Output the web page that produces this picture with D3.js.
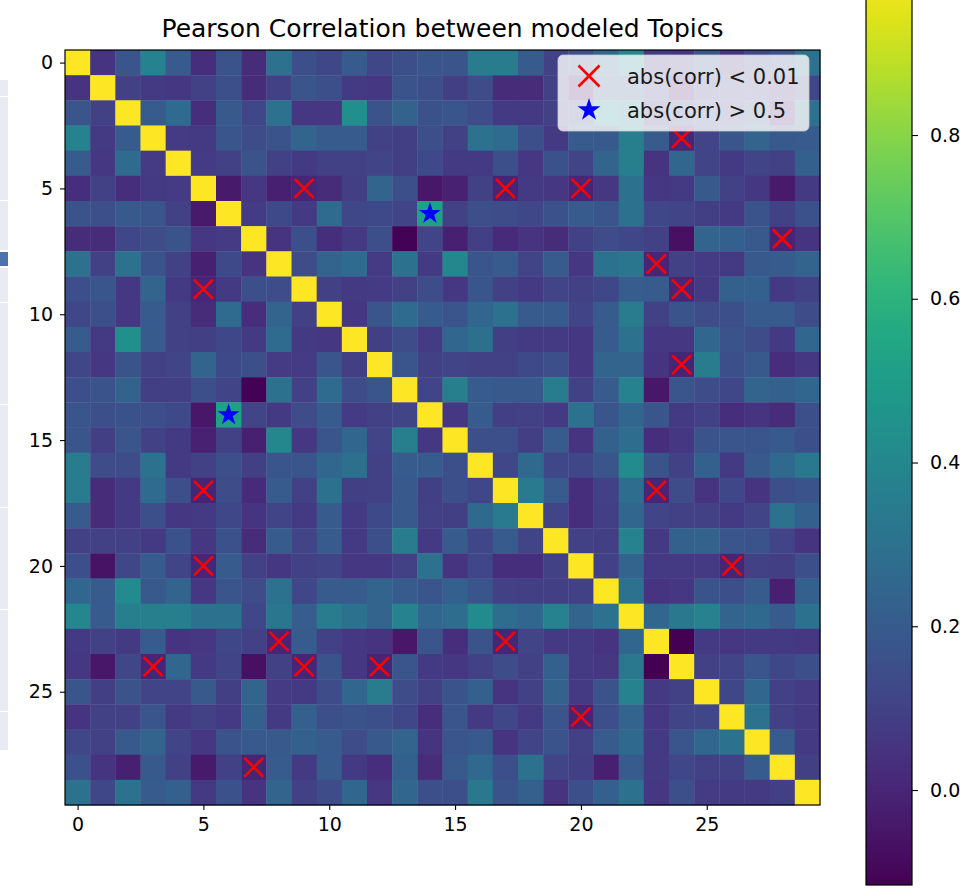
<!DOCTYPE html>
<html>
<head>
<meta charset="utf-8">
<script src="https://cdn.jsdelivr.net/npm/d3@7"></script>
<style>
  html, body { margin: 0; padding: 0; background: #fff; }
  svg { display: block; font-family: "DejaVu Sans", sans-serif; }
</style>
</head>
<body>
<svg id="chart" width="960" height="888"></svg>
<script>
// ---------------- DATA ----------------
const topics = d3.range(30);
const axisTicks = [0, 5, 10, 15, 20, 25];
const colorbarTicks = [0.0, 0.2, 0.4, 0.6, 0.8];
const titleText = "Pearson Correlation between modeled Topics";
const legendLabels = ["abs(corr) < 0.01", "abs(corr) > 0.5"];
const lowThreshold = 0.01, highThreshold = 0.5;

// Upper triangle of the (symmetric) correlation matrix: row i holds columns i+1 .. 29
const upper = [
  [0.05,0.18,0.38,0.20,0.03,0.17,0.02,0.30,0.15,0.12,0.20,0.12,0.15,0.18,0.18,0.35,0.35,0.20,0.10,0.15,0.25,0.40,0.07,0.06,0.18,0.05,0.12,0.16,0.30],
  [0.10,0.07,0.06,0.10,0.15,0.02,0.10,0.18,0.15,0.07,0.06,0.17,0.15,0.09,0.14,0.02,0.02,0.10,-0.06,0.20,0.20,0.10,-0.05,0.09,0.10,0.10,0.05,0.12],
  [0.20,0.27,0.03,0.19,0.12,0.30,0.06,0.06,0.44,0.17,0.23,0.16,0.18,0.14,0.07,0.07,0.10,0.12,0.42,0.36,0.07,0.12,0.17,0.10,0.19,-0.02,0.30],
  [0.08,0.07,0.18,0.14,0.17,0.24,0.20,0.20,0.10,0.09,0.15,0.10,0.30,0.27,0.15,0.07,0.20,0.19,0.36,0.20,0.005,0.11,0.18,0.24,0.19,0.20],
  [0.08,0.10,0.17,0.10,0.07,0.10,0.10,0.11,0.09,0.13,0.07,0.07,0.15,0.06,0.16,0.11,0.24,0.36,0.05,0.25,0.11,0.07,0.11,0.10,0.22],
  [-0.04,0.06,-0.02,0.005,0.02,0.09,0.24,0.15,-0.05,-0.015,0.10,-0.005,0.07,0.06,0.005,0.06,0.30,0.06,0.07,0.19,0.10,0.06,-0.04,0.07],
  [0.08,0.13,0.07,0.27,0.12,0.13,0.11,0.52,0.10,0.15,0.14,0.12,0.16,0.20,0.18,0.30,0.12,0.11,0.09,0.07,0.17,0.10,0.16],
  [0.05,0.15,0.03,0.07,0.15,-0.11,0.11,-0.02,0.09,0.015,0.05,0.02,0.10,0.14,0.12,0.10,-0.07,0.24,0.22,0.19,-0.005,0.05],
  [0.14,0.24,0.27,0.08,0.30,0.07,0.40,0.18,0.20,0.11,0.20,0.06,0.30,0.32,0.005,0.10,0.08,0.07,0.19,0.20,0.24],
  [0.10,0.07,0.08,0.10,0.14,0.06,0.18,0.10,0.07,0.11,0.10,0.12,0.21,0.20,0.005,0.07,0.22,0.22,0.07,0.10],
  [0.06,0.18,0.27,0.20,0.18,0.25,0.30,0.20,0.20,0.11,0.20,0.35,0.10,0.17,0.14,0.15,0.20,0.20,0.14],
  [0.09,0.14,0.08,0.25,0.29,0.09,0.07,0.07,0.06,0.20,0.30,0.06,0.06,0.25,0.17,0.14,0.07,0.25],
  [0.18,0.10,0.11,0.10,0.10,0.13,0.15,0.06,0.24,0.24,0.05,-0.005,0.35,0.15,0.19,0.03,0.06],
  [0.11,0.36,0.20,0.19,0.19,0.35,0.10,0.20,0.38,-0.05,0.18,0.14,0.12,0.24,0.22,0.25],
  [0.06,0.20,0.09,0.10,0.07,0.30,0.18,0.25,0.18,0.07,0.10,0.03,0.05,0.02,0.15],
  [0.15,0.15,0.09,0.20,0.05,0.22,0.28,0.03,0.06,0.17,0.18,0.18,0.19,0.15],
  [0.12,0.26,0.12,0.12,0.18,0.42,0.17,0.10,0.22,0.07,0.19,0.26,0.33],
  [0.34,0.20,0.03,0.10,0.28,0.005,0.14,0.05,0.12,0.05,0.15,0.17],
  [0.11,0.03,0.09,0.25,0.11,0.10,0.10,0.07,0.11,0.30,0.22],
  [0.10,0.09,0.38,0.07,0.22,0.23,0.18,0.17,0.11,0.05],
  [0.10,0.24,0.07,0.07,0.07,-0.005,0.10,0.09,0.15],
  [0.30,0.05,0.06,0.17,0.15,0.20,-0.02,0.22],
  [0.25,0.33,0.38,0.24,0.26,0.20,0.30],
  [-0.116,0.07,0.06,0.07,0.07,0.06],
  [0.10,0.11,0.18,0.12,0.15],
  [0.12,0.25,0.10,0.08],
  [0.30,0.10,0.07],
  [0.20,0.07],
  [0.09]
];

// ---------------- BUILD ----------------
const n = topics.length;
function corr(i, j) {
  if (i === j) return 1;
  return i < j ? upper[i][j - i - 1] : upper[j][i - j - 1];
}
const cells = [];
topics.forEach(i => topics.forEach(j => cells.push({ row: i, col: j, v: corr(i, j) })));

const svg = d3.select("#chart");
svg.append("rect").attr("width", 960).attr("height", 888).attr("fill", "#fff");

// left-edge remnants of neighbouring UI in the screenshot
const leftBands = [[80, 96], [97, 200], [201, 250], [268, 302], [303, 404], [405, 507], [508, 609], [610, 711], [712, 750]];
svg.append("g").selectAll("rect").data(leftBands).join("rect")
  .attr("x", 0).attr("y", d => d[0]).attr("width", 8).attr("height", d => d[1] - d[0])
  .attr("fill", "#eaeaf2");
svg.append("rect").attr("x", 0).attr("y", 252).attr("width", 8).attr("height", 14).attr("fill", "#4c72b0");

const pLeft = 65, pRight = 820, pTop = 50, pBottom = 805;
const x = d3.scaleLinear().domain([-0.5, n - 0.5]).range([pLeft, pRight]);
const y = d3.scaleLinear().domain([-0.5, n - 0.5]).range([pTop, pBottom]);
const cw = x(1) - x(0), ch = y(1) - y(0);

const vmin = d3.min(cells, d => d.v), vmax = d3.max(cells, d => d.v);
const color = d3.scaleSequential(d3.interpolateViridis).domain([vmin, vmax]);

// heatmap cells
svg.append("g").selectAll("rect").data(cells).join("rect")
  .attr("x", d => x(d.col - 0.5)).attr("y", d => y(d.row - 0.5))
  .attr("width", cw + 0.4).attr("height", ch + 0.4)
  .attr("fill", d => color(d.v));

// markers
function starPath(R) {
  const r = R * 0.382;
  let p = "";
  for (let k = 0; k < 10; k++) {
    const rad = k % 2 === 0 ? R : r;
    const a = -Math.PI / 2 + k * Math.PI / 5;
    p += (k === 0 ? "M" : "L") + (rad * Math.cos(a)).toFixed(2) + "," + (rad * Math.sin(a)).toFixed(2);
  }
  return p + "Z";
}
const xPath = "M-9.5,-9.5L9.5,9.5M-9.5,9.5L9.5,-9.5";
const lows = cells.filter(d => d.row !== d.col && Math.abs(d.v) < lowThreshold);
const highs = cells.filter(d => d.row !== d.col && Math.abs(d.v) > highThreshold);

svg.append("g").selectAll("path").data(lows).join("path")
  .attr("transform", d => `translate(${x(d.col)},${y(d.row)})`)
  .attr("d", xPath).attr("stroke", "#ff0000").attr("stroke-width", 2.6).attr("fill", "none");
svg.append("g").selectAll("path").data(highs).join("path")
  .attr("transform", d => `translate(${x(d.col)},${y(d.row)})`)
  .attr("d", starPath(11.5)).attr("fill", "#0000ff");

// frame
svg.append("rect").attr("x", pLeft).attr("y", pTop).attr("width", pRight - pLeft).attr("height", pBottom - pTop)
  .attr("fill", "none").attr("stroke", "#000").attr("stroke-width", 1.2);

// axes
const fontSize = 19;
const gy = svg.append("g").attr("transform", `translate(${pLeft},0)`)
  .call(d3.axisLeft(y).tickValues(axisTicks).tickSize(5).tickPadding(7).tickFormat(d3.format("d")));
const gx = svg.append("g").attr("transform", `translate(0,${pBottom})`)
  .call(d3.axisBottom(x).tickValues(axisTicks).tickSize(5).tickPadding(8).tickFormat(d3.format("d")));
[gx, gy].forEach(g => {
  g.select(".domain").remove();
  g.selectAll(".tick line").attr("stroke", "#000").attr("stroke-width", 1.1);
  g.selectAll(".tick text").attr("fill", "#000").style("font-size", fontSize + "px")
    .style("font-family", "DejaVu Sans, sans-serif");
});

// title
svg.append("text").attr("x", (pLeft + pRight) / 2).attr("y", 37).attr("text-anchor", "middle")
  .style("font-size", "25px").attr("fill", "#000").text(titleText);

// legend
const lg = svg.append("g");
lg.append("rect").attr("x", 558).attr("y", 55).attr("width", 251).attr("height", 76).attr("rx", 5)
  .attr("fill", "#ffffff").attr("fill-opacity", 0.8).attr("stroke", "#cccccc").attr("stroke-opacity", 0.8);
lg.append("path").attr("transform", "translate(589,76)")
  .attr("d", "M-10.5,-10.5L10.5,10.5M-10.5,10.5L10.5,-10.5").attr("stroke", "#ff0000").attr("stroke-width", 2.6).attr("fill", "none");
lg.append("path").attr("transform", "translate(589,110)").attr("d", starPath(12)).attr("fill", "#0000ff");
lg.selectAll("text").data(legendLabels).join("text")
  .attr("x", 627).attr("y", (d, i) => 84 + i * 34)
  .style("font-size", "21px").attr("fill", "#1a1a1a").text(d => d);

// colorbar
const cbX = 866, cbW = 46, cbBottom = 885;
const cbScale = d3.scaleLinear().domain([vmin, vmax]).range([cbBottom, cbBottom - (vmax - vmin) * 818.75]);
const defs = svg.append("defs");
const grad = defs.append("linearGradient").attr("id", "cbgrad")
  .attr("gradientUnits", "userSpaceOnUse")
  .attr("x1", 0).attr("x2", 0).attr("y1", cbScale(vmin)).attr("y2", cbScale(vmax));
d3.range(0, 1.0001, 0.05).forEach(t => {
  grad.append("stop").attr("offset", t).attr("stop-color", d3.interpolateViridis(t));
});
svg.append("rect").attr("x", cbX).attr("y", cbScale(vmax)).attr("width", cbW)
  .attr("height", cbScale(vmin) - cbScale(vmax)).attr("fill", "url(#cbgrad)")
  .attr("stroke", "#000").attr("stroke-width", 1.2);
const gc = svg.append("g").attr("transform", `translate(${cbX + cbW},0)`)
  .call(d3.axisRight(cbScale).tickValues(colorbarTicks).tickSize(6).tickPadding(12).tickFormat(d3.format(".1f")));
gc.select(".domain").remove();
gc.selectAll(".tick line").attr("stroke", "#000").attr("stroke-width", 1.1);
gc.selectAll(".tick text").attr("fill", "#000").style("font-size", fontSize + "px")
  .style("font-family", "DejaVu Sans, sans-serif");
</script>
</body>
</html>
